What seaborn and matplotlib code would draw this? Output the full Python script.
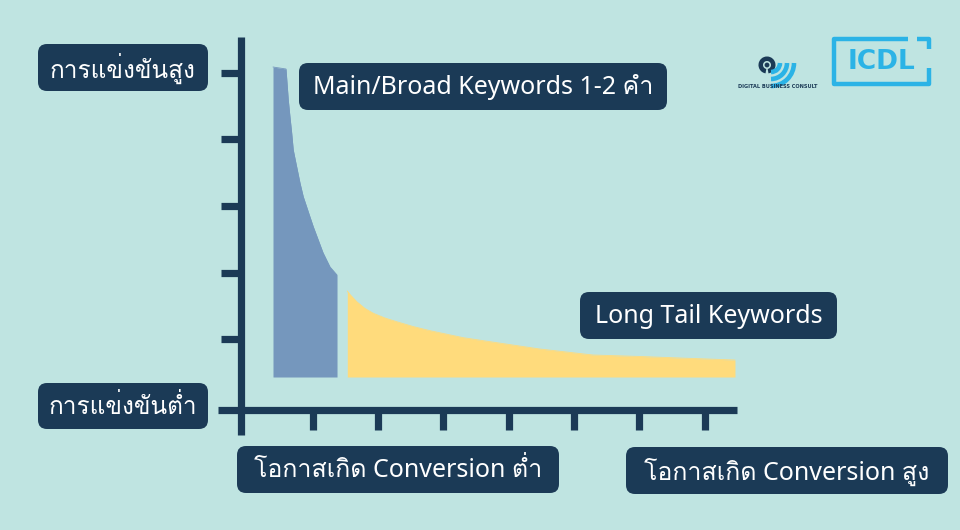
import numpy as np
import pandas as pd
import matplotlib
matplotlib.use("Agg")
import matplotlib.pyplot as plt
import seaborn as sns
from matplotlib import font_manager as fm
from matplotlib.ft2font import FT2Font
from matplotlib.patches import FancyBboxPatch, Circle, Wedge, Arc

# ---------------- data ----------------
x_ticks = [1, 2, 3, 4, 5, 6, 7]
y_ticks = [1, 2, 3, 4, 5]

broad_x = [0.396, 0.595, 0.630, 0.656, 0.682, 0.706, 0.758, 0.809, 0.859, 0.962, 1.012,
           1.161, 1.268, 1.375]
broad_y = [5.086, 5.056, 4.591, 4.336, 4.096, 3.841, 3.590, 3.346, 3.140, 2.836, 2.690,
           2.300, 2.086, 1.965]

tail_x = [1.532, 1.573, 1.676, 1.803, 1.930, 2.109, 2.287, 2.537, 2.797, 3.306, 3.714,
          4.478, 5.289, 6.008, 6.619, 7.460]
tail_y = [1.725, 1.673, 1.565, 1.463, 1.391, 1.320, 1.265, 1.193, 1.130, 1.025, 0.965,
          0.855, 0.765, 0.743, 0.720, 0.690]

base_level = 0.435

label_high = "การแข่งขันสูง"
label_low = "การแข่งขันต่ำ"
label_broad = "Main/Broad Keywords 1-2 คำ"
label_tail = "Long Tail Keywords"
label_conv_low = "โอกาสเกิด Conversion ต่ำ"
label_conv_high = "โอกาสเกิด Conversion สูง"

# ---------------- style ----------------
BG = "#BFE4E1"
NAVY = "#1B3A56"
BLUE = "#7597BD"
YELLOW = "#FFDB7C"
CYAN = "#2BB3E6"

sns.set_theme(style="white", rc={"axes.facecolor": BG, "figure.facecolor": BG})


def find_thai_font():
    seen = set()
    for f in fm.fontManager.ttflist:
        if f.name in seen:
            continue
        seen.add(f.name)
        try:
            cm = FT2Font(f.fname).get_charmap()
        except Exception:
            continue
        if 0x0E01 in cm and 0x0E33 in cm and 0x0E48 in cm:
            return f.name
    for path in fm.findSystemFonts():
        try:
            cm = FT2Font(path).get_charmap()
        except Exception:
            continue
        if 0x0E01 in cm and 0x0E33 in cm:
            try:
                fm.fontManager.addfont(path)
                return fm.FontProperties(fname=path).get_name()
            except Exception:
                pass
    return None


thai = find_thai_font()
families = ["Noto Sans"]
if thai and thai not in families:
    families.append(thai)
families.append("DejaVu Sans")
plt.rcParams["font.family"] = families

W, H = 960, 530
fig = plt.figure(figsize=(W / 100, H / 100), dpi=100)
fig.patch.set_facecolor(BG)

# main axes: pixel extents 218..737 (x), 37..435 (y)
ax = fig.add_axes([218 / W, 1 - 435 / H, (737 - 218) / W, (435 - 37) / H])
ax.set_facecolor(BG)
ax.set_xlim(-0.445, 7.491)
ax.set_ylim(-0.435, 5.536)

df_b = pd.DataFrame({"x": broad_x, "y": broad_y})
df_t = pd.DataFrame({"x": tail_x, "y": tail_y})

ax.fill_between(df_b["x"], base_level, df_b["y"], color=BLUE, lw=0)
ax.fill_between(df_t["x"], base_level, df_t["y"], color=YELLOW, lw=0)
sns.lineplot(data=df_b, x="x", y="y", color=BLUE, lw=0.6, ax=ax, sort=False)
sns.lineplot(data=df_t, x="x", y="y", color=YELLOW, lw=0.6, ax=ax, sort=False)

for s in ["top", "right"]:
    ax.spines[s].set_visible(False)
ax.spines["left"].set_position(("data", -0.093))
ax.spines["bottom"].set_position(("data", -0.0525))
for s in ["left", "bottom"]:
    ax.spines[s].set_color(NAVY)
    ax.spines[s].set_linewidth(5.2)
    ax.spines[s].set_capstyle("butt")
ax.set_xticks(x_ticks)
ax.set_yticks(y_ticks)
ax.set_xticklabels([])
ax.set_yticklabels([])
ax.tick_params(axis="both", direction="out", length=14.4, width=5.2, color=NAVY, bottom=True, left=True)
ax.set_xlabel("")
ax.set_ylabel("")

# ---------------- overlay for boxes & logos (pixel coords) ----------------
ov = fig.add_axes([0, 0, 1, 1], facecolor="none")
ov.set_xlim(0, W)
ov.set_ylim(H, 0)
ov.axis("off")

boxes = [
    (label_high, 38, 44, 208, 91, 17.5),
    (label_low, 38, 383, 208, 429, 17.5),
    (label_broad, 299, 63, 667, 110, 18),
    (label_tail, 580, 292, 837, 339, 18),
    (label_conv_low, 237, 446, 559, 493, 18),
    (label_conv_high, 626, 447, 948, 494, 18),
]
for txt, x0, y0, x1, y1, fs in boxes:
    r = 9
    ov.add_patch(FancyBboxPatch((x0 + r, y0 + r), (x1 - x0) - 2 * r, (y1 - y0) - 2 * r,
                                boxstyle=f"round,pad={r}", fc=NAVY, ec="none"))
    ov.text((x0 + x1) / 2, (y0 + y1) / 2 + 1, txt, color="white", fontsize=fs,
            ha="center", va="center")

# ICDL logo
lw_logo = 3.2
ov.plot([908, 834, 834, 929, 929], [39, 39, 84, 84, 68], color=CYAN, lw=lw_logo, solid_capstyle="butt")
ov.plot([917, 929, 929], [39, 39, 49], color=CYAN, lw=lw_logo, solid_capstyle="butt")
ov.text(881, 62, "ICDL", color=CYAN, fontsize=19, fontweight="bold", ha="center", va="center",
        family="DejaVu Sans")

# Digital Business Consult logo
cx, cy = 767, 65
ov.add_patch(Wedge((cx, cy), 8.5, 100, 440, width=4.5, fc=NAVY, ec="none"))
ov.add_patch(Circle((cx, cy), 2.4, fc=NAVY, ec="none"))
for rr in (9, 16, 23):
    ov.add_patch(Arc((771, 63), 2 * rr, 2 * rr, theta1=0, theta2=90, color=CYAN, lw=3.3))
ov.text(778, 86, "DIGITAL BUSINESS CONSULT", color=NAVY, fontsize=3.6, fontweight="bold",
        ha="center", va="center", family="DejaVu Sans")

fig.savefig("out.png", dpi=100, facecolor=BG)
